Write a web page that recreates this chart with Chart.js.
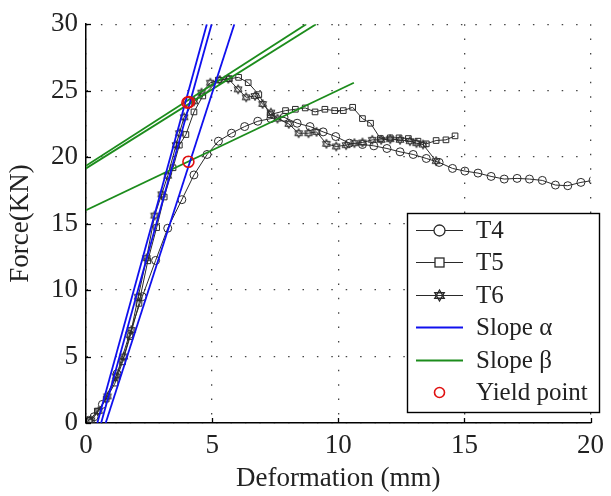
<!DOCTYPE html>
<html>
<head>
<meta charset="utf-8">
<script src="https://cdn.jsdelivr.net/npm/chart.js@4"></script>
<style>
  html, body { margin: 0; padding: 0; background: #fff; }
  #wrap { width: 611px; height: 496px; }
</style>
</head>
<body>
<div id="wrap"><canvas id="force"></canvas></div>
<script>
// deformation (mm), force (kN)
var t4 = [[0.1,0.2],[0.32,0.47],[0.65,1.4],[1.23,3.7],[1.72,6.66],[2.23,9.5],[2.76,12.23],
  [3.24,14.65],[3.8,16.8],[4.28,18.66],[4.8,20.2],[5.25,21.2],[5.77,21.8],[6.29,22.3],
  [6.81,22.7],[7.33,22.9],[7.85,23.0],[8.37,22.55],[8.88,22.3],[9.4,21.9],[9.9,21.55],
  [10.44,21.05],[10.96,20.95],[11.41,20.85],[11.93,20.65],[12.45,20.4],[12.97,20.2],
  [13.49,19.9],[14.0,19.6],[14.53,19.15],[15.02,18.95],[15.54,18.8],[16.06,18.55],
  [16.58,18.35],[17.09,18.4],[17.58,18.35],[18.09,18.25],[18.61,17.9],[19.1,17.85],
  [19.62,18.1],[20.1,18.25]];
var t5 = [[0.13,0.2],[0.45,0.9],[0.8,1.8],[1.15,3.0],[1.45,4.6],[1.75,6.5],[2.1,9.0],
  [2.45,12.2],[2.8,14.7],[3.1,17.0],[3.45,19.2],[3.7,20.9],[3.96,21.7],[4.28,23.4],
  [4.63,24.6],[5.25,25.8],[5.68,25.9],[6.05,26.0],[6.43,25.6],[6.85,24.7],[7.3,23.2],
  [7.91,23.5],[8.3,23.6],[8.69,23.7],[9.08,23.4],[9.47,23.6],[9.86,23.5],[10.2,23.5],
  [10.57,23.75],[10.96,22.9],[11.28,22.55],[11.67,21.4],[12.06,21.45],[12.41,21.45],
  [12.78,21.4],[13.16,21.2],[13.49,21.0],[13.88,21.25],[14.27,21.3],[14.63,21.6]];
var t6 = [[0.2,0.2],[0.5,0.9],[0.85,2.0],[1.2,3.5],[1.5,5.0],[1.8,7.0],[2.07,9.5],
  [2.4,12.4],[2.72,15.6],[3.0,17.2],[3.24,18.6],[3.57,20.9],[3.7,21.8],[3.89,23.0],
  [4.28,24.2],[4.58,24.85],[4.93,25.6],[5.3,25.8],[5.64,25.9],[6.03,25.1],[6.35,24.5],
  [6.7,24.6],[7.0,24.0],[7.33,23.35],[7.59,22.9],[8.04,22.5],[8.43,21.8],[8.82,21.8],
  [9.14,21.9],[9.53,21.0],[9.92,20.8],[10.31,20.9],[10.64,21.05],[10.96,21.1],
  [11.35,21.3],[11.7,21.3],[12.06,21.35],[12.45,21.3],[12.84,21.2],[13.1,21.05],
  [13.36,20.95],[13.88,19.7]];

// fitted lines, given by their two end points
var slopeA = [
  [[0.78,0],[5.88,30]],
  [[0.45,0],[4.79,30]],
  [[0.6,0],[4.98,30]]
];
var slopeB = [
  [[0,16.0],[10.62,25.6]],
  [[0,19.35],[8.73,30]],
  [[0,19.15],[9.12,30]]
];
var yieldPts = [[4.06,19.65],[4.02,24.1],[4.08,24.15]];

var xTicks = [0, 5, 10, 15, 20];
var yTicks = [0, 5, 10, 15, 20, 25, 30];

var FONT = '"Liberation Serif", "DejaVu Serif", serif';
var INK = '#2a2a2a';
var BLUE = '#1010ee';
var GREEN = '#1c8c1c';

function pts(list) {
  return list.map(function (p) { return { x: p[0], y: p[1] }; });
}

// six pointed star marker
function hexagram(r, lw) {
  var s = Math.ceil(r * 2 + 4);
  var c = document.createElement('canvas');
  c.width = s; c.height = s;
  var g = c.getContext('2d');
  g.strokeStyle = INK;
  g.lineWidth = lw;
  [-90, 90].forEach(function (start) {
    g.beginPath();
    for (var k = 0; k < 3; k++) {
      var a = (start + k * 120) * Math.PI / 180;
      var px = s / 2 + r * Math.cos(a), py = s / 2 + r * Math.sin(a);
      if (k === 0) g.moveTo(px, py); else g.lineTo(px, py);
    }
    g.closePath();
    g.stroke();
  });
  return c;
}
var starMark = hexagram(4.6, 1);
var starLegend = hexagram(5.5, 1.3);

var datasets = [];
datasets.push({
  label: 'Yield point', data: pts(yieldPts), showLine: false,
  pointStyle: 'circle', pointRadius: 5.5, pointBorderWidth: 1.6,
  pointBorderColor: '#e01010', pointBackgroundColor: 'rgba(0,0,0,0)'
});
slopeA.forEach(function (l) {
  datasets.push({ label: 'Slope α', data: pts(l), showLine: true, borderColor: BLUE,
    borderWidth: 1.8, pointRadius: 0 });
});
slopeB.forEach(function (l) {
  datasets.push({ label: 'Slope β', data: pts(l), showLine: true, borderColor: GREEN,
    borderWidth: 1.8, pointRadius: 0 });
});
[[t4, 'T4', 'circle'], [t5, 'T5', 'rect'], [t6, 'T6', starMark]].forEach(function (s) {
  datasets.push({
    label: s[1], data: pts(s[0]), showLine: true, borderColor: INK, borderWidth: 1,
    pointStyle: s[2], pointRadius: 4, pointBorderWidth: 1,
    pointBorderColor: INK, pointBackgroundColor: 'rgba(0,0,0,0)'
  });
});

// inward tick marks and the boxed legend inside the plot
var decor = {
  id: 'decor',
  afterDraw: function (chart) {
    var g = chart.ctx, a = chart.chartArea;
    var sx = chart.scales.x, sy = chart.scales.y;
    g.save();
    g.strokeStyle = '#000';
    g.lineWidth = 1.3;
    xTicks.forEach(function (v) {
      var px = Math.round(sx.getPixelForValue(v)) + 0.5;
      g.beginPath(); g.moveTo(px, a.bottom); g.lineTo(px, a.bottom - 5); g.stroke();
    });
    yTicks.forEach(function (v) {
      var py = Math.round(sy.getPixelForValue(v)) + 0.5;
      g.beginPath(); g.moveTo(a.left, py); g.lineTo(a.left + 5, py); g.stroke();
    });

    var box = { l: 407.5, t: 213.5, r: 599.5, b: 412.5 };
    g.fillStyle = '#fff';
    g.fillRect(box.l, box.t, box.r - box.l, box.b - box.t);
    g.lineWidth = 1.4;
    g.strokeRect(box.l, box.t, box.r - box.l, box.b - box.t);

    var rows = [
      { text: 'T4', line: INK, lw: 1, mark: 'circle' },
      { text: 'T5', line: INK, lw: 1, mark: 'rect' },
      { text: 'T6', line: INK, lw: 1, mark: 'star' },
      { text: 'Slope α', line: BLUE, lw: 1.8 },
      { text: 'Slope β', line: GREEN, lw: 2 },
      { text: 'Yield point', mark: 'yield' }
    ];
    var y0 = 230, step = 32.4, x1 = 416, x2 = 463, mx = 439.5;
    g.font = '25px ' + FONT;
    g.textBaseline = 'middle';
    g.textAlign = 'left';
    rows.forEach(function (row, i) {
      var y = Math.round(y0 + i * step) + 0.5;
      if (row.line) {
        g.strokeStyle = row.line; g.lineWidth = row.lw;
        g.beginPath(); g.moveTo(x1, y); g.lineTo(x2, y); g.stroke();
      }
      g.strokeStyle = INK; g.lineWidth = 1.3;
      if (row.mark === 'circle') {
        g.fillStyle = '#fff';
        g.beginPath(); g.arc(mx, y, 5.5, 0, Math.PI * 2); g.fill(); g.stroke();
      } else if (row.mark === 'rect') {
        g.fillStyle = '#fff';
        g.fillRect(mx - 4.5, y - 4.5, 9, 9); g.strokeRect(mx - 4.5, y - 4.5, 9, 9);
      } else if (row.mark === 'star') {
        g.drawImage(starLegend, mx - starLegend.width / 2, y - starLegend.height / 2);
      } else if (row.mark === 'yield') {
        g.strokeStyle = '#e01010'; g.lineWidth = 1.6;
        g.beginPath(); g.arc(mx, y, 5, 0, Math.PI * 2); g.stroke();
      }
      g.fillStyle = '#222';
      g.fillText(row.text, 476, y + 1);
    });
    g.restore();
  }
};

var ctx = document.getElementById('force').getContext('2d');
var chart = new Chart(ctx, {
  type: 'scatter',
  data: { datasets: datasets },
  plugins: [decor],
  options: {
    responsive: true,
    maintainAspectRatio: false,
    animation: false,
    layout: { padding: { top: 19, right: 12, left: 0, bottom: 0 } },
    plugins: { legend: { display: false }, tooltip: { enabled: false } },
    elements: { line: { tension: 0 } },
    scales: {
      x: {
        type: 'linear', min: 0, max: 20,
        afterBuildTicks: function (s) { s.ticks = xTicks.map(function (v) { return { value: v }; }); },
        afterFit: function (s) { s.height = 73; },
        ticks: { color: '#222', padding: 7, font: { family: FONT, size: 27 } },
        grid: { color: '#444', lineWidth: 1.3, drawTicks: false },
        border: { color: '#000', width: 1.5, dash: [1.5, 12.9] },
        title: { display: true, text: 'Deformation (mm)', color: '#222',
          font: { family: FONT, size: 27 }, padding: { top: 0, bottom: 1 } }
      },
      y: {
        type: 'linear', min: 0, max: 30,
        afterBuildTicks: function (s) { s.ticks = yTicks.map(function (v) { return { value: v }; }); },
        afterFit: function (s) { s.width = 86; },
        ticks: { color: '#222', padding: 8, font: { family: FONT, size: 27 } },
        grid: { color: '#444', lineWidth: 1.3, drawTicks: false },
        border: { color: '#000', width: 1.5, dash: [1.5, 12.9] },
        title: { display: true, text: 'Force(KN)', color: '#222',
          font: { family: FONT, size: 27 }, padding: { top: 5, bottom: 0 } }
      }
    }
  }
});
</script>
</body>
</html>
